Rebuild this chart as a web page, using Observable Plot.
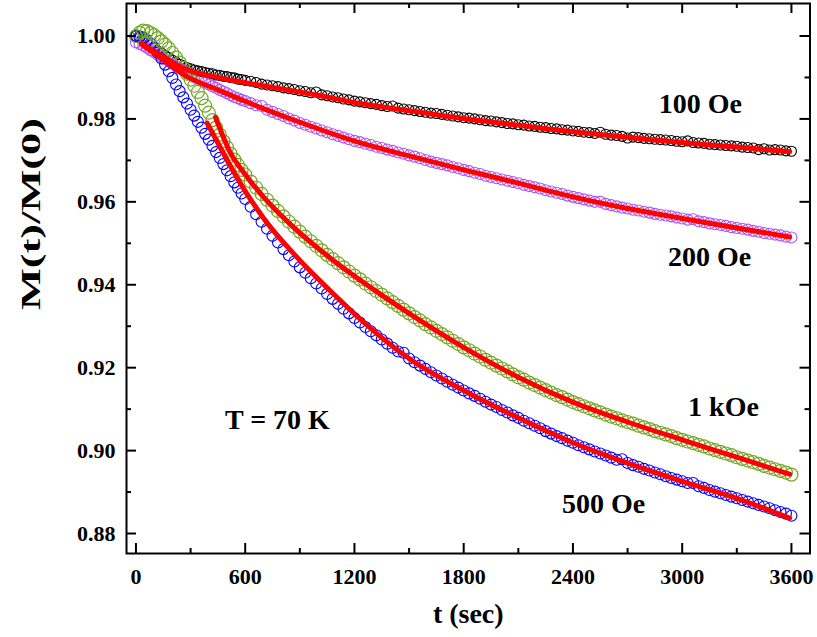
<!DOCTYPE html>
<html><head><meta charset="utf-8">
<script src="https://cdn.jsdelivr.net/npm/d3@7"></script>
<script src="https://cdn.jsdelivr.net/npm/@observablehq/plot@0.6"></script>
<style>body{margin:0;background:#fff} svg{display:block}</style>
</head><body><div id="chart"></div>
<script>
// time axis (s): early part every 20 s, rest every 30 s
const tEarly = [0,20,40,60,80,100,120,140,160,180,200,220,240,260,280,300,320,340,360,380,400,420,440,460,480,500,520,540,560,580,600];
const tLate = [630,660,690,720,750,780,810,840,870,900,930,960,990,1020,1050,1080,1110,1140,1170,1200,1230,1260,1290,1320,1350,1380,1410,1440,1470,1500,1530,1560,1590,1620,1650,1680,1710,1740,1770,1800,1830,1860,1890,1920,1950,1980,2010,2040,2070,2100,2130,2160,2190,2220,2250,2280,2310,2340,2370,2400,2430,2460,2490,2520,2550,2580,2610,2640,2670,2700,2730,2760,2790,2820,2850,2880,2910,2940,2970,3000,3030,3060,3090,3120,3150,3180,3210,3240,3270,3300,3330,3360,3390,3420,3450,3480,3510,3540,3570,3600];

// measured M(t)/M(0), 100 Oe
const m100Early = [1.0000,0.9996,0.9990,0.9983,0.9977,0.9970,0.9964,0.9959,0.9953,0.9948,0.9942,0.9937,0.9932,0.9928,0.9924,0.9921,0.9918,0.9916,0.9914,0.9912,0.9910,0.9909,0.9906,0.9905,0.9903,0.9902,0.9900,0.9899,0.9896,0.9895,0.9893];
const m100Late = [0.9891,0.9888,0.9884,0.9882,0.9880,0.9878,0.9875,0.9873,0.9871,0.9868,0.9866,0.9863,0.9865,0.9858,0.9856,0.9853,0.9851,0.9848,0.9846,0.9843,0.9841,0.9839,0.9837,0.9835,0.9832,0.9830,0.9831,0.9826,0.9824,0.9822,0.9820,0.9818,0.9816,0.9814,0.9813,0.9811,0.9809,0.9807,0.9805,0.9803,0.9802,0.9800,0.9798,0.9796,0.9795,0.9793,0.9791,0.9789,0.9788,0.9786,0.9785,0.9783,0.9782,0.9780,0.9779,0.9777,0.9776,0.9774,0.9773,0.9771,0.9770,0.9768,0.9767,0.9765,0.9768,0.9763,0.9761,0.9760,0.9758,0.9754,0.9756,0.9755,0.9753,0.9752,0.9751,0.9750,0.9749,0.9748,0.9746,0.9745,0.9747,0.9743,0.9742,0.9741,0.9739,0.9738,0.9737,0.9736,0.9735,0.9734,0.9732,0.9731,0.9730,0.9726,0.9728,0.9725,0.9726,0.9725,0.9723,0.9722];
// 200 Oe
const m200Early = [0.9985,0.9981,0.9977,0.9972,0.9966,0.9961,0.9955,0.9950,0.9944,0.9939,0.9933,0.9928,0.9922,0.9917,0.9911,0.9906,0.9901,0.9897,0.9892,0.9888,0.9883,0.9879,0.9875,0.9870,0.9866,0.9862,0.9857,0.9853,0.9850,0.9846,0.9843];
const m200Late = [0.9838,0.9833,0.9831,0.9822,0.9817,0.9812,0.9807,0.9801,0.9796,0.9790,0.9786,0.9781,0.9777,0.9772,0.9768,0.9763,0.9759,0.9755,0.9751,0.9747,0.9744,0.9740,0.9737,0.9733,0.9730,0.9726,0.9723,0.9719,0.9716,0.9712,0.9709,0.9705,0.9701,0.9697,0.9694,0.9691,0.9688,0.9684,0.9681,0.9677,0.9674,0.9670,0.9667,0.9663,0.9660,0.9657,0.9654,0.9651,0.9648,0.9645,0.9641,0.9638,0.9635,0.9632,0.9628,0.9625,0.9622,0.9619,0.9615,0.9612,0.9609,0.9606,0.9603,0.9600,0.9600,0.9595,0.9592,0.9589,0.9586,0.9584,0.9581,0.9579,0.9576,0.9574,0.9571,0.9569,0.9567,0.9565,0.9562,0.9560,0.9557,0.9558,0.9553,0.9551,0.9548,0.9546,0.9544,0.9542,0.9539,0.9537,0.9535,0.9533,0.9530,0.9528,0.9525,0.9523,0.9521,0.9519,0.9516,0.9514];
// 500 Oe
const m500Early = [1.0000,0.9999,0.9996,0.9990,0.9982,0.9972,0.9960,0.9946,0.9931,0.9915,0.9899,0.9883,0.9867,0.9852,0.9837,0.9822,0.9808,0.9793,0.9779,0.9764,0.9750,0.9735,0.9720,0.9706,0.9691,0.9676,0.9662,0.9647,0.9634,0.9620,0.9607];
const m500Late = [0.9588,0.9570,0.9552,0.9535,0.9518,0.9502,0.9486,0.9471,0.9456,0.9442,0.9429,0.9416,0.9403,0.9391,0.9378,0.9366,0.9354,0.9342,0.9331,0.9320,0.9309,0.9298,0.9288,0.9278,0.9268,0.9258,0.9248,0.9239,0.9236,0.9222,0.9213,0.9205,0.9197,0.9189,0.9181,0.9174,0.9166,0.9159,0.9152,0.9145,0.9138,0.9132,0.9125,0.9118,0.9111,0.9105,0.9098,0.9092,0.9085,0.9079,0.9072,0.9066,0.9060,0.9054,0.9047,0.9041,0.9035,0.9030,0.9024,0.9019,0.9013,0.9008,0.9003,0.8998,0.8993,0.8988,0.8983,0.8978,0.8979,0.8970,0.8965,0.8961,0.8956,0.8952,0.8947,0.8943,0.8938,0.8934,0.8930,0.8926,0.8922,0.8922,0.8914,0.8910,0.8905,0.8901,0.8897,0.8893,0.8889,0.8885,0.8881,0.8877,0.8873,0.8869,0.8865,0.8861,0.8856,0.8852,0.8848,0.8843];
// 1 kOe
const m1kEarly = [1.0000,1.0008,1.0013,1.0012,1.0007,1.0002,0.9995,0.9987,0.9979,0.9970,0.9959,0.9948,0.9936,0.9923,0.9909,0.9895,0.9880,0.9865,0.9850,0.9832,0.9815,0.9797,0.9779,0.9762,0.9746,0.9731,0.9716,0.9702,0.9689,0.9677,0.9666];
const m1kLate = [0.9649,0.9634,0.9619,0.9605,0.9591,0.9578,0.9565,0.9552,0.9540,0.9528,0.9516,0.9505,0.9494,0.9483,0.9472,0.9462,0.9452,0.9442,0.9432,0.9422,0.9413,0.9403,0.9394,0.9385,0.9376,0.9367,0.9358,0.9349,0.9340,0.9331,0.9322,0.9314,0.9305,0.9297,0.9289,0.9281,0.9273,0.9265,0.9257,0.9249,0.9242,0.9234,0.9227,0.9219,0.9212,0.9205,0.9198,0.9191,0.9184,0.9177,0.9171,0.9164,0.9158,0.9152,0.9146,0.9140,0.9134,0.9129,0.9123,0.9117,0.9112,0.9107,0.9102,0.9097,0.9092,0.9087,0.9082,0.9078,0.9073,0.9069,0.9065,0.9060,0.9056,0.9052,0.9047,0.9043,0.9039,0.9035,0.9030,0.9026,0.9022,0.9018,0.9014,0.9010,0.9005,0.9001,0.8997,0.8993,0.8989,0.8984,0.8980,0.8976,0.8972,0.8968,0.8963,0.8959,0.8955,0.8951,0.8947,0.8942];

// fitted curves (red)
const fit100T = [30,150,262,450,700,1000,1233,1500,1800,2100,2400,2700,3000,3300,3590];
const fit100M = [0.9982,0.9950,0.9922,0.9900,0.9880,0.9857,0.9837,0.9820,0.9801,0.9785,0.9769,0.9756,0.9743,0.9732,0.9721];
const fit200T = [30,150,262,450,700,900,1233,1500,1800,2100,2400,2700,3000,3300,3590];
const fit200M = [0.9980,0.9942,0.9907,0.9870,0.9825,0.9792,0.9742,0.9711,0.9677,0.9645,0.9612,0.9584,0.9560,0.9537,0.9515];
const fit500T = [391,450,519,600,702,885,1068,1250,1500,1800,2100,2400,2700,3000,3300,3590];
const fit500M = [0.9790,0.9742,0.9686,0.9626,0.9560,0.9466,0.9385,0.9310,0.9222,0.9145,0.9079,0.9019,0.8970,0.8926,0.8885,0.8837];
const fit1kT = [437,519,600,700,850,1068,1300,1500,1800,2100,2400,2700,3000,3300,3590];
const fit1kM = [0.9804,0.9718,0.9666,0.9612,0.9545,0.9464,0.9390,0.9331,0.9249,0.9177,0.9117,0.9069,0.9026,0.8984,0.8943];

// ticks
const xMajor = [0,600,1200,1800,2400,3000,3600];
const xMinor = [300,900,1500,2100,2700,3300];
const yMajor = [0.88,0.90,0.92,0.94,0.96,0.98,1.00];
const yMinor = [0.89,0.91,0.93,0.95,0.97,0.99];
// annotations
const labelText = ["100 Oe","200 Oe","1 kOe","500 Oe","T = 70 K"];
const labelT = [3100,3150,3227,2568,777];
const labelM = [0.9835,0.9466,0.9106,0.8872,0.9073];

const times = tEarly.concat(tLate);
const rows = (a, b) => { const ys = a.concat(b); return times.map((t, i) => ({t, m: ys[i]})); };
const fitRows = (ts, ms) => ts.map((t, i) => ({t, m: ms[i]}));
const labels = labelText.map((text, i) => ({text, t: labelT[i], m: labelM[i]}));

const font = "'Liberation Serif','Times New Roman',serif";
const frameH = 550, frameW = 683.5;
const fitStyle = {x: "t", y: "m", stroke: "#ff0000", strokeWidth: 5, curve: "monotone-x"};

const chart = Plot.plot({
  width: 817, height: 637,
  marginLeft: 126, marginRight: 7.5, marginTop: 3, marginBottom: 84,
  style: {fontFamily: font, background: "white", color: "black", overflow: "visible"},
  x: {domain: [-52, 3702]},
  y: {domain: [0.87518, 1.00784]},
  marks: [
    Plot.dot(rows(m100Early, m100Late), {x: "t", y: "m", r: 5, stroke: "#000000", strokeWidth: 1.1, fill: "none"}),
    Plot.dot(rows(m200Early, m200Late), {x: "t", y: "m", r: 5.5, stroke: "#a855f7", strokeWidth: 1.1, fill: "none"}),
    Plot.dot(rows(m500Early, m500Late), {x: "t", y: "m", r: 5.5, stroke: "#0000ff", strokeWidth: 1.1, fill: "none"}),
    Plot.dot(rows(m1kEarly, m1kLate), {x: "t", y: "m", r: 6.5, stroke: "#72a826", strokeWidth: 1.2, fill: "none"}),
    Plot.line(fitRows(fit100T, fit100M), fitStyle),
    Plot.line(fitRows(fit200T, fit200M), fitStyle),
    Plot.line(fitRows(fit500T, fit500M), fitStyle),
    Plot.line(fitRows(fit1kT, fit1kM), fitStyle),
    // inward ticks on all four sides
    Plot.tickX(xMajor, {x: d => d, insetTop: frameH - 10, stroke: "black", strokeWidth: 2}),
    Plot.tickX(xMinor, {x: d => d, insetTop: frameH - 5, stroke: "black", strokeWidth: 2}),
    Plot.tickX(xMajor, {x: d => d, insetBottom: frameH - 10, stroke: "black", strokeWidth: 2}),
    Plot.tickX(xMinor, {x: d => d, insetBottom: frameH - 5, stroke: "black", strokeWidth: 2}),
    Plot.tickY(yMajor, {y: d => d, insetRight: frameW - 10, stroke: "black", strokeWidth: 2}),
    Plot.tickY(yMinor, {y: d => d, insetRight: frameW - 5, stroke: "black", strokeWidth: 2}),
    Plot.tickY(yMajor, {y: d => d, insetLeft: frameW - 10, stroke: "black", strokeWidth: 2}),
    Plot.tickY(yMinor, {y: d => d, insetLeft: frameW - 5, stroke: "black", strokeWidth: 2}),
    Plot.frame({stroke: "black", strokeWidth: 2}),
    Plot.axisX(xMajor, {tickSize: 0, tickPadding: 15, tickFormat: d => String(d), fontSize: 22, fontWeight: "bold", label: null}),
    Plot.axisY(yMajor, {tickSize: 0, tickPadding: 11, tickFormat: d3.format(".2f"), fontSize: 22, fontWeight: "bold", label: null}),
    Plot.text(labels, {x: "t", y: "m", text: "text", fontSize: 28, fontWeight: "bold", textAnchor: "middle", fill: "black"}),
    Plot.text(["M(t)/M(0)"], {text: d => d, frameAnchor: "left", dx: -95, dy: 31.5, rotate: -90, fontSize: 27, fontWeight: "bold", fill: "black"}),
    Plot.text(["t (sec)"], {text: d => d, frameAnchor: "bottom", dy: 69, fontSize: 28, fontWeight: "bold", fill: "black"})
  ]
});
d3.select(chart).selectAll("text").filter(function () { return this.textContent === "M(t)/M(0)"; })
  .attr("textLength", 192).attr("lengthAdjust", "spacingAndGlyphs");
document.getElementById("chart").appendChild(chart);
</script>
</body></html>
